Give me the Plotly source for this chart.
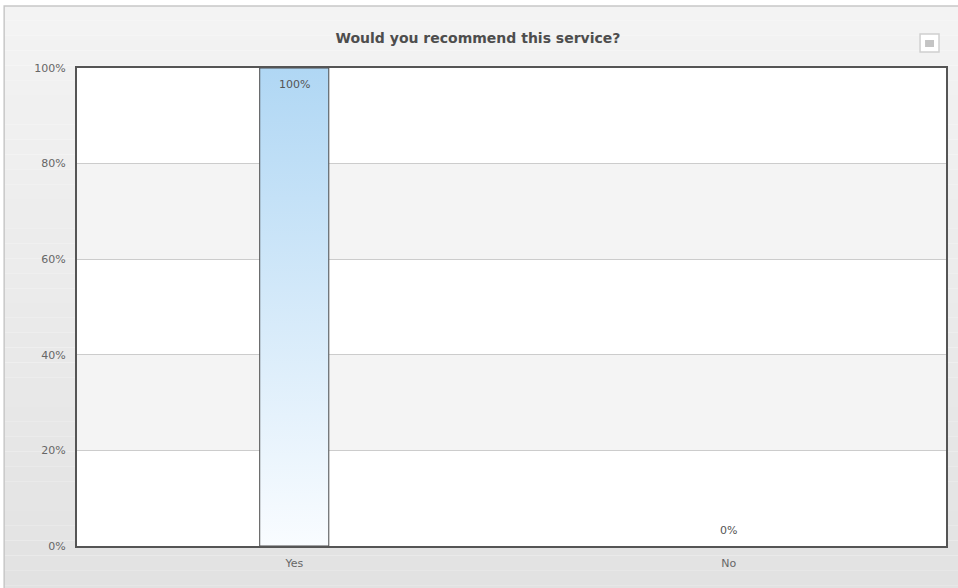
import plotly.graph_objects as go

categories = ["Yes", "No"]
values = [100, 0]
value_labels = ["100%", "0%"]
y_ticks = [0, 20, 40, 60, 80, 100]
y_tick_labels = ["0%", "20%", "40%", "60%", "80%", "100%"]
title_text = "Would you recommend this service?"

W, H = 958, 588
ML, MR, MT, MB = 77, 10, 68, 42
PW, PH = W - ML - MR, H - MT - MB


def px_x(px):
    return (px - ML) / PW


def px_y(py):
    return (H - MB - py) / PH


xpos = list(range(len(categories)))
bar_w = 0.159

fig = go.Figure()

# base bars (data marks)
fig.add_trace(go.Bar(
    x=xpos, y=values, width=bar_w,
    marker=dict(color="#d6eafa", line=dict(width=0)),
    hoverinfo="x+y", showlegend=False,
))

# gradient fill + outline of the bars, built from the data values
for i, v in zip(xpos, values):
    if v <= 0:
        continue
    fig.add_trace(go.Scatter(
        x=[i - bar_w / 2, i + bar_w / 2, i + bar_w / 2, i - bar_w / 2, i - bar_w / 2],
        y=[0, 0, v, v, 0],
        mode="lines", line=dict(width=1, color="#4a4a4a"), fill="toself",
        fillgradient=dict(type="vertical", start=0, stop=v,
                          colorscale=[[0, "#f9fcff"], [1, "#b0d7f4"]]),
        hoverinfo="skip", showlegend=False,
    ))

annotations = []
for i, v, lab in zip(xpos, values, value_labels):
    annotations.append(dict(
        x=i, y=v, xref="x", yref="y", text=lab, showarrow=False,
        yshift=-16 if v > 10 else 16,
        font=dict(family="DejaVu Sans", size=11, color="#555555"),
    ))

shapes = []
# outer container gradient (styling bands)
top_px, bot_px, left_px, right_px = 6, 600, 4, 970
nb = 40
c0, c1 = (243, 243, 243), (226, 226, 226)
for k in range(nb):
    y0 = top_px + (bot_px - top_px) * k / nb
    y1 = top_px + (bot_px - top_px) * (k + 1) / nb
    t = k / (nb - 1)
    col = "rgb(%d,%d,%d)" % tuple(round(a + (b - a) * t) for a, b in zip(c0, c1))
    shapes.append(dict(type="rect", xref="paper", yref="paper", layer="below",
                       x0=px_x(left_px), x1=px_x(right_px), y0=px_y(y1), y1=px_y(y0),
                       fillcolor=col, line=dict(width=0)))
shapes.append(dict(type="rect", xref="paper", yref="paper", layer="below",
                   x0=px_x(left_px), x1=px_x(right_px), y0=px_y(bot_px), y1=px_y(top_px),
                   fillcolor="rgba(0,0,0,0)", line=dict(color="#c8c8c8", width=1.5)))
# white plot area, then alternating bands
shapes.append(dict(type="rect", xref="x", yref="y", layer="below",
                   x0=-0.5, x1=1.5, y0=0, y1=100, fillcolor="#ffffff", line=dict(width=0)))
for lo, hi in [(20, 40), (60, 80)]:
    shapes.append(dict(type="rect", xref="x", yref="y", layer="below",
                       x0=-0.5, x1=1.5, y0=lo, y1=hi, fillcolor="#f4f4f4", line=dict(width=0)))
# menu button
shapes.append(dict(type="rect", xref="paper", yref="paper", layer="above",
                   x0=px_x(922), x1=px_x(941), y0=px_y(52), y1=px_y(34),
                   fillcolor="#ffffff", line=dict(color="#d0d0d0", width=1.5)))
shapes.append(dict(type="rect", xref="paper", yref="paper", layer="above",
                   x0=px_x(927), x1=px_x(936), y0=px_y(47), y1=px_y(40),
                   fillcolor="#c4c4c4", line=dict(width=0)))

fig.update_layout(
    width=W, height=H,
    margin=dict(l=ML, r=MR, t=MT, b=MB, pad=0),
    paper_bgcolor="#ffffff",
    plot_bgcolor="rgba(0,0,0,0)",
    title=dict(text="<b>" + title_text + "</b>", x=478 / W, xanchor="center",
               y=1 - 38 / H, yanchor="middle",
               font=dict(family="DejaVu Sans", size=14, color="#4d4d4d")),
    shapes=shapes,
    annotations=annotations,
    bargap=0,
    xaxis=dict(range=[-0.5, 1.5], tickvals=xpos, ticktext=categories,
               showgrid=False, zeroline=False,
               showline=True, mirror=True, linecolor="#555555", linewidth=2,
               ticks="", ticklabelstandoff=6,
               tickfont=dict(family="DejaVu Sans", size=11, color="#666666"),
               fixedrange=True),
    yaxis=dict(range=[0, 100], tickvals=y_ticks, ticktext=y_tick_labels,
               showgrid=True, gridcolor="#cccccc", gridwidth=1, zeroline=False,
               showline=True, mirror=True, linecolor="#555555", linewidth=2,
               ticks="", ticklabelstandoff=7,
               tickfont=dict(family="DejaVu Sans", size=11, color="#666666"),
               fixedrange=True),
    font=dict(family="DejaVu Sans"),
)

fig.write_html("out.html", config={"displayModeBar": False},
               post_script="document.body.style.margin='0';document.body.style.padding='0';")
